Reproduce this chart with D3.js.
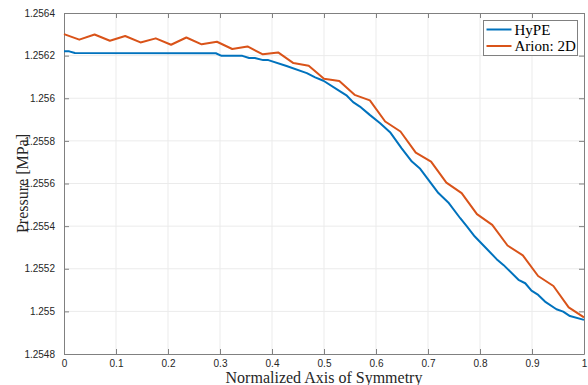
<!DOCTYPE html>
<html lang="en">
<head>
<meta charset="UTF-8">
<title>Pressure along axis of symmetry</title>
<script src="https://d3js.org/d3.v7.min.js"></script>
<style>
    body { margin: 0; background: #fff; }
    .tick-label { font-family: "Liberation Sans", Arial, sans-serif; font-size: 10px; fill: #262626; }
    .axis-title { font-family: "Liberation Serif", "DejaVu Serif", serif; font-size: 16px; fill: #262626; }
    .legend-text { font-family: "Liberation Serif", "DejaVu Serif", serif; font-size: 15px; fill: #000; }
</style>
</head>
<body>
<svg width="588" height="385"></svg>
<script>
// HyPE (blue)
const hypeX = [0, 0.01, 0.021, 0.292, 0.303, 0.343, 0.356, 0.367, 0.383, 0.393, 0.428, 0.467, 0.483, 0.499,
    0.531, 0.544, 0.556, 0.569, 0.588, 0.608, 0.627, 0.649, 0.669, 0.685, 0.72, 0.739, 0.762, 0.774, 0.79,
    0.81, 0.832, 0.845, 0.874, 0.887, 0.899, 0.912, 0.925, 0.947, 0.96, 0.973, 1.0];
const hypeY = [1.25622, 1.25622, 1.256212, 1.256211, 1.256199, 1.256199, 1.256189, 1.256189, 1.256179, 1.256179,
    1.256151, 1.256118, 1.256098, 1.256082, 1.256032, 1.256012, 1.255982, 1.255961, 1.255922, 1.255883,
    1.255841, 1.255766, 1.255703, 1.255669, 1.255555, 1.255511, 1.255437, 1.255401, 1.255351, 1.255301,
    1.255245, 1.255218, 1.255148, 1.255132, 1.255097, 1.255077, 1.255046, 1.25501, 1.254999, 1.254978, 1.25496];

// Arion: 2D (orange) - 35 equally spaced points
const arionY = [1.256301, 1.256275, 1.256299, 1.25627, 1.256292, 1.256262, 1.256281, 1.256251, 1.256285,
    1.256253, 1.256265, 1.256231, 1.256243, 1.256206, 1.256215, 1.256165, 1.256152, 1.256091, 1.256081,
    1.256016, 1.25599, 1.255891, 1.255844, 1.255745, 1.255703, 1.255604, 1.255555, 1.255456, 1.255406,
    1.255309, 1.255263, 1.255166, 1.255119, 1.255019, 1.254972];
const arionX = arionY.map((d, i) => i / (arionY.length - 1));

const xTicks = [0, 0.1, 0.2, 0.3, 0.4, 0.5, 0.6, 0.7, 0.8, 0.9, 1];
const yTicks = [1.2548, 1.255, 1.2552, 1.2554, 1.2556, 1.2558, 1.256, 1.2562, 1.2564];
const seriesNames = ["HyPE", "Arion: 2D"];
const colors = ["#0072BD", "#D95319"];

const margin = { top: 13, right: 4, bottom: 31, left: 64 };
const width = 588, height = 385;

const x = d3.scaleLinear().domain([0, 1]).range([margin.left, width - margin.right]);
const y = d3.scaleLinear().domain([1.2548, 1.2564]).range([height - margin.bottom, margin.top]);

const svg = d3.select("svg");

// grid
svg.append("g").selectAll("line").data(xTicks.slice(1, -1)).join("line")
    .attr("x1", d => x(d)).attr("x2", d => x(d))
    .attr("y1", y.range()[1]).attr("y2", y.range()[0])
    .attr("stroke", "#ebebeb").attr("stroke-width", 1);
svg.append("g").selectAll("line").data(yTicks.slice(1, -1)).join("line")
    .attr("y1", d => y(d)).attr("y2", d => y(d))
    .attr("x1", x.range()[0]).attr("x2", x.range()[1])
    .attr("stroke", "#ebebeb").attr("stroke-width", 1);

// axes (MATLAB style, ticks inside, box on)
const fmt = d => String(+d.toFixed(4));
const axisColor = "#808080";
function styleAxis(g, showLabels) {
    g.select(".domain").attr("stroke", axisColor);
    g.selectAll(".tick line").attr("stroke", axisColor);
    g.selectAll(".tick text").attr("class", "tick-label").style("display", showLabels ? null : "none");
}
svg.append("g").attr("transform", `translate(0,${y.range()[0]})`)
    .call(d3.axisBottom(x).tickValues(xTicks).tickFormat(fmt).tickSizeInner(-5).tickSizeOuter(0).tickPadding(6))
    .call(g => styleAxis(g, true));
svg.append("g").attr("transform", `translate(0,${y.range()[1]})`)
    .call(d3.axisTop(x).tickValues(xTicks).tickSizeInner(-5).tickSizeOuter(0))
    .call(g => styleAxis(g, false));
svg.append("g").attr("transform", `translate(${x.range()[0]},0)`)
    .call(d3.axisLeft(y).tickValues(yTicks).tickFormat(fmt).tickSizeInner(-5).tickSizeOuter(0).tickPadding(9))
    .call(g => styleAxis(g, true));
svg.append("g").attr("transform", `translate(${x.range()[1]},0)`)
    .call(d3.axisRight(y).tickValues(yTicks).tickSizeInner(-5).tickSizeOuter(0))
    .call(g => styleAxis(g, false));

// lines
const line = d3.line().x(d => x(d[0])).y(d => y(d[1]));
const series = [d3.zip(hypeX, hypeY), d3.zip(arionX, arionY)];
svg.append("g").selectAll("path").data(series).join("path")
    .attr("d", line)
    .attr("fill", "none")
    .attr("stroke", (d, i) => colors[i])
    .attr("stroke-width", 2)
    .attr("stroke-linejoin", "round");

// axis titles
svg.append("text").attr("class", "axis-title")
    .attr("x", (x.range()[0] + x.range()[1]) / 2).attr("y", 383)
    .attr("text-anchor", "middle")
    .text("Normalized Axis of Symmetry");
svg.append("text").attr("class", "axis-title")
    .attr("transform", `translate(28,${(y.range()[0] + y.range()[1]) / 2}) rotate(-90)`)
    .attr("text-anchor", "middle")
    .text("Pressure [MPa]");

// legend
const legend = svg.append("g").attr("transform", "translate(483.5,20.5)");
legend.append("rect").attr("width", 94).attr("height", 35)
    .attr("fill", "#fff").attr("stroke", "#808080");
seriesNames.forEach((name, i) => {
    const ly = 9 + i * 16.5;
    legend.append("line").attr("x1", 3).attr("x2", 28).attr("y1", ly).attr("y2", ly)
        .attr("stroke", colors[i]).attr("stroke-width", 2);
    legend.append("text").attr("class", "legend-text")
        .attr("x", 31).attr("y", ly + 5)
        .text(name);
});
</script>
</body>
</html>
